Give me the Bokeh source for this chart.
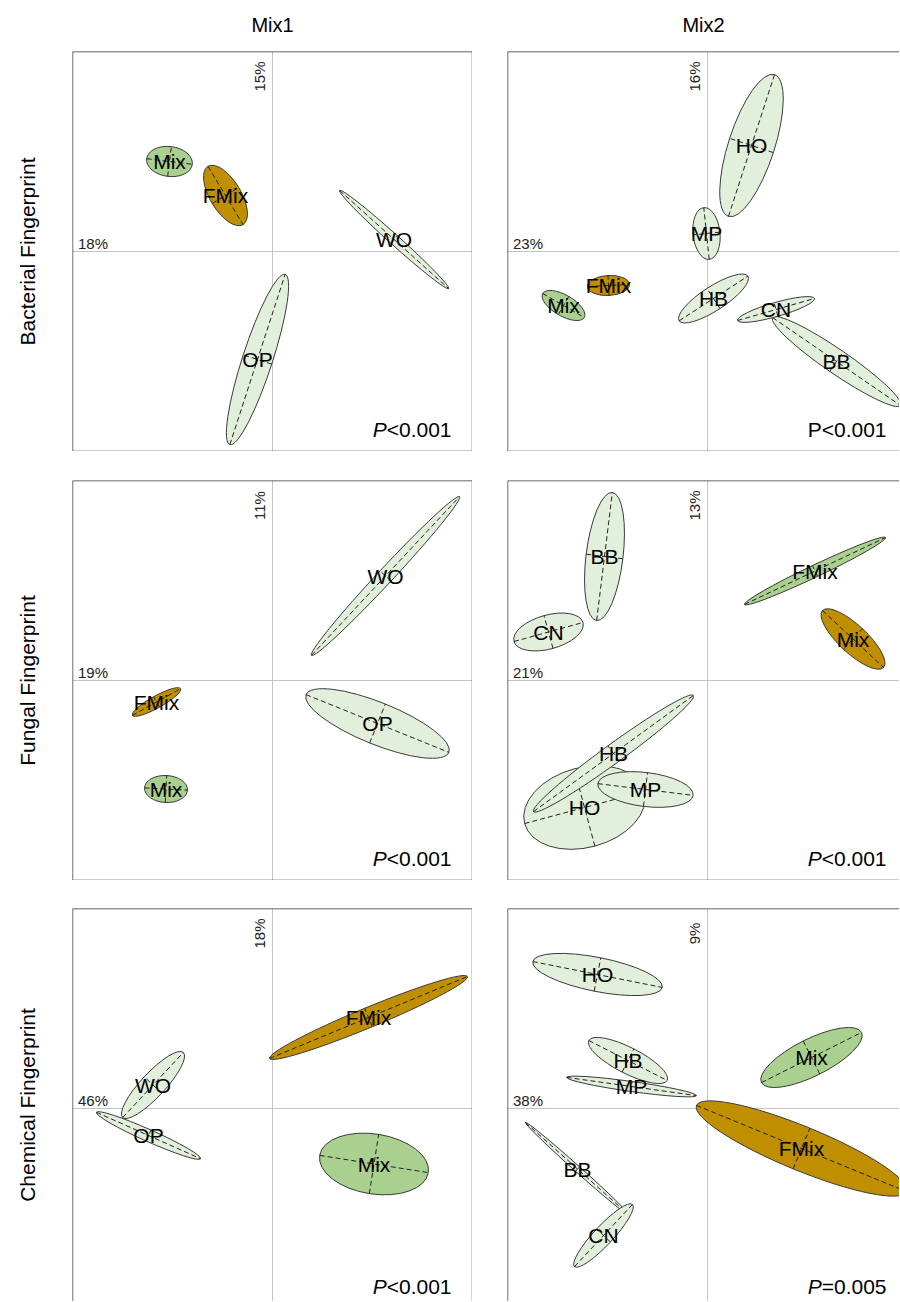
import math
from bokeh.plotting import figure
from bokeh.models import Span, Range1d, LinearAxis, FixedTicker
from bokeh.layouts import column, row
from bokeh.embed import file_html
from bokeh.resources import INLINE
from bokeh.core.properties import value

# ---------------- data (ordination scores) ----------------
col_titles = ["Mix1", "Mix2"]
row_titles = ["Bacterial Fingerprint", "Fungal Fingerprint", "Chemical Fingerprint"]

# Bacterial fingerprint, Mix1
bac1_groups = ["Mix", "FMix", "WO", "OP"]
bac1_x = [-0.515, -0.235, 0.608, -0.075]
bac1_y = [0.45, 0.28, 0.06, -0.54]
bac1_w = [0.23, 0.34, 0.733, 0.895]
bac1_h = [0.15, 0.155, 0.05, 0.15]
bac1_angle = [-7, -59, -42, 72]

# Bacterial fingerprint, Mix2
bac2_groups = ["HO", "MP", "Mix", "FMix", "HB", "BB", "CN"]
bac2_x = [0.22, -0.005, -0.72, -0.495, 0.03, 0.645, 0.3425]
bac2_y = [0.53, 0.09, -0.27, -0.17, -0.235, -0.55, -0.29]
bac2_w = [0.745, 0.26, 0.24, 0.21, 0.41, 0.775, 0.40]
bac2_h = [0.23, 0.135, 0.105, 0.10, 0.12, 0.12, 0.07]
bac2_angle = [72, 96, -30, 3, 33, -34.5, 16]

# Fungal fingerprint, Mix1
fun1_groups = ["WO", "OP", "FMix", "Mix"]
fun1_x = [0.565, 0.525, -0.58, -0.5325]
fun1_y = [0.5225, -0.215, -0.1075, -0.5425]
fun1_w = [1.085, 0.77, 0.275, 0.215]
fun1_h = [0.075, 0.21, 0.06, 0.135]
fun1_angle = [47, -22, 29, -3]

# Fungal fingerprint, Mix2
fun2_groups = ["BB", "CN", "FMix", "Mix", "HO", "HB", "MP"]
fun2_x = [-0.515, -0.795, 0.5375, 0.7275, -0.615, -0.47, -0.31]
fun2_y = [0.62, 0.2425, 0.5475, 0.2075, -0.635, -0.365, -0.545]
fun2_w = [0.645, 0.358, 0.78, 0.4175, 0.62, 0.988, 0.48]
fun2_h = [0.185, 0.17, 0.06, 0.14, 0.40, 0.095, 0.17]
fun2_angle = [83, 15.4, 25.4, -43, 15, 36, -7]

# Chemical fingerprint, Mix1
che1_groups = ["WO", "OP", "FMix", "Mix"]
che1_x = [-0.5975, -0.62, 0.48, 0.5075]
che1_y = [0.1175, -0.135, 0.455, -0.2775]
che1_w = [0.445, 0.57, 1.07, 0.55]
che1_h = [0.12, 0.06, 0.10, 0.30]
che1_angle = [47, -24, 22.5, -9]

# Chemical fingerprint, Mix2
che2_groups = ["HO", "HB", "MP", "Mix", "FMix", "BB", "CN"]
che2_x = [-0.55, -0.3975, -0.38, 0.52, 0.47, -0.65, -0.52]
che2_y = [0.67, 0.24, 0.11, 0.255, -0.2, -0.3025, -0.635]
che2_w = [0.66, 0.44, 0.655, 0.56, 1.135, 0.6975, 0.425]
che2_h = [0.17, 0.13, 0.05, 0.185, 0.22, 0.03, 0.095]
che2_angle = [-11.3, -27, -8, 26.6, -22.3, -41.8, 47]

# explained variance labels (axis 1, axis 2) and test results
axis1_pct = ["18%", "23%", "19%", "21%", "46%", "38%"]
axis2_pct = ["15%", "16%", "11%", "13%", "18%", "9%"]
p_letter = "P"
p_rest = ["<0.001", "<0.001", "<0.001", "<0.001", "<0.001", "=0.005"]
p_italic = [True, False, True, True, True, True]

# ---------------- style ----------------
FONT = "Liberation Sans"
LIGHT, MID, GOLD = "#e2efda", "#a9d08e", "#bf8f00"
fills = {
    "bac1": [MID, GOLD, LIGHT, LIGHT],
    "bac2": [LIGHT, LIGHT, MID, GOLD, LIGHT, LIGHT, LIGHT],
    "fun1": [LIGHT, LIGHT, GOLD, MID],
    "fun2": [LIGHT, LIGHT, MID, GOLD, LIGHT, LIGHT, LIGHT],
    "che1": [LIGHT, LIGHT, GOLD, MID],
    "che2": [LIGHT, LIGHT, LIGHT, MID, GOLD, LIGHT, LIGHT],
}
PPU = 200.0  # pixels per unit
EDGE = "#3a3a3a"


def label_axis(text, standoff):
    ax = LinearAxis(ticker=FixedTicker(ticks=[]), axis_label=text,
                    axis_line_color=None, major_tick_line_color=None,
                    minor_tick_line_color=None, major_tick_out=0, major_tick_in=0,
                    minor_tick_out=0, minor_tick_in=0, major_label_standoff=0,
                    axis_label_standoff=standoff, axis_label_text_font=FONT,
                    axis_label_text_font_style="normal", axis_label_text_color="black")
    return ax


def make_panel(idx, key, groups, xs, ys, ws, hs, angs):
    r, c = divmod(idx, 2)
    frame_w = 400 if c == 0 else 392
    frame_h = 400 if r < 2 else 393
    x0, x1 = -1.0, -1.0 + frame_w / PPU
    y1 = 1.0
    y0 = 1.0 - frame_h / PPU
    b_left = 72 if c == 0 else 35
    b_top = [51, 29, 28][r]

    p = figure(frame_width=frame_w, frame_height=frame_h,
               x_range=Range1d(x0, x1), y_range=Range1d(y0, y1),
               output_backend="svg", toolbar_location=None, tools="",
               x_axis_location=None, y_axis_location=None,
               min_border_left=b_left, min_border_right=0,
               min_border_top=b_top, min_border_bottom=0,
               outline_line_color=None, background_fill_color="white",
               border_fill_color="white")
    p.grid.grid_line_color = None
    p.grid.visible = False

    if r == 0:
        top_ax = label_axis(col_titles[c], 16)
        top_ax.axis_label_text_font_size = "20px"
        p.add_layout(top_ax, "above")
    if c == 0:
        left_ax = label_axis(row_titles[r], 34)
        left_ax.axis_label_text_font_size = "21px"
        p.add_layout(left_ax, "left")

    # crosshair through origin
    p.add_layout(Span(location=0, dimension="height", line_color="#c4c4c4",
                      line_width=1, level="underlay"))
    p.add_layout(Span(location=0, dimension="width", line_color="#c4c4c4",
                      line_width=1, level="underlay"))

    # panel borders (only those visible in the window)
    borders = [("height", x0), ("width", y1)]
    if c == 0:
        borders.append(("height", x1))
    if r < 2:
        borders.append(("width", y0))
    for dim, loc in borders:
        p.add_layout(Span(location=loc, dimension=dim, line_color="#333333",
                          line_width=1.4))

    # ellipses with dashed principal axes
    for i in range(len(groups)):
        th = math.radians(angs[i])
        a, b = ws[i] / 2, hs[i] / 2
        p.ellipse(x=[xs[i]], y=[ys[i]], width=[ws[i]], height=[hs[i]], angle=[th],
                  fill_color=fills[key][i], line_color=EDGE, line_width=1)
        sx0 = [xs[i] - a * math.cos(th), xs[i] + b * math.sin(th)]
        sy0 = [ys[i] - a * math.sin(th), ys[i] - b * math.cos(th)]
        sx1 = [xs[i] + a * math.cos(th), xs[i] - b * math.sin(th)]
        sy1 = [ys[i] + a * math.sin(th), ys[i] + b * math.cos(th)]
        p.segment(x0=sx0, y0=sy0, x1=sx1, y1=sy1, line_color="#222222",
                  line_width=1, line_dash="5 3")

    p.text(x=xs, y=ys, text=groups, text_align="center", text_baseline="middle",
           text_font=value(FONT), text_font_size=value("21px"), text_color="black")

    # explained variance labels
    p.text(x=[x0 + 5.5 / PPU], y=[8.5 / PPU], text=[axis1_pct[idx]],
           text_align="left", text_baseline="middle",
           text_font=value(FONT), text_font_size=value("15px"), text_color="#222222")
    p.text(x=[-13.0 / PPU], y=[y1 - 25.0 / PPU], text=[axis2_pct[idx]], angle=math.pi / 2,
           text_align="center", text_baseline="middle",
           text_font=value(FONT), text_font_size=value("15px"), text_color="#222222")

    # test result
    xr = 1.0 - 21.0 / PPU
    yb = -1.0 + 22.5 / PPU
    if p_italic[idx]:
        rest_w = 3.086 * 21.0
        p.text(x=[xr], y=[yb], text=[p_rest[idx]], text_align="right",
               text_baseline="middle", text_font=value(FONT),
               text_font_size=value("21px"), text_color="black")
        p.text(x=[xr - rest_w / PPU], y=[yb], text=[p_letter], text_align="right",
               text_baseline="middle", text_font=value(FONT), text_font_style="italic",
               text_font_size=value("21px"), text_color="black")
    else:
        p.text(x=[xr], y=[yb], text=[p_letter + p_rest[idx]], text_align="right",
               text_baseline="middle", text_font=value(FONT),
               text_font_size=value("21px"), text_color="black")
    return p


panels = [
    make_panel(0, "bac1", bac1_groups, bac1_x, bac1_y, bac1_w, bac1_h, bac1_angle),
    make_panel(1, "bac2", bac2_groups, bac2_x, bac2_y, bac2_w, bac2_h, bac2_angle),
    make_panel(2, "fun1", fun1_groups, fun1_x, fun1_y, fun1_w, fun1_h, fun1_angle),
    make_panel(3, "fun2", fun2_groups, fun2_x, fun2_y, fun2_w, fun2_h, fun2_angle),
    make_panel(4, "che1", che1_groups, che1_x, che1_y, che1_w, che1_h, che1_angle),
    make_panel(5, "che2", che2_groups, che2_x, che2_y, che2_w, che2_h, che2_angle),
]

layout = column(row(panels[0], panels[1]), row(panels[2], panels[3]),
                row(panels[4], panels[5]))

open("out.html", "w").write(file_html(layout, INLINE))
